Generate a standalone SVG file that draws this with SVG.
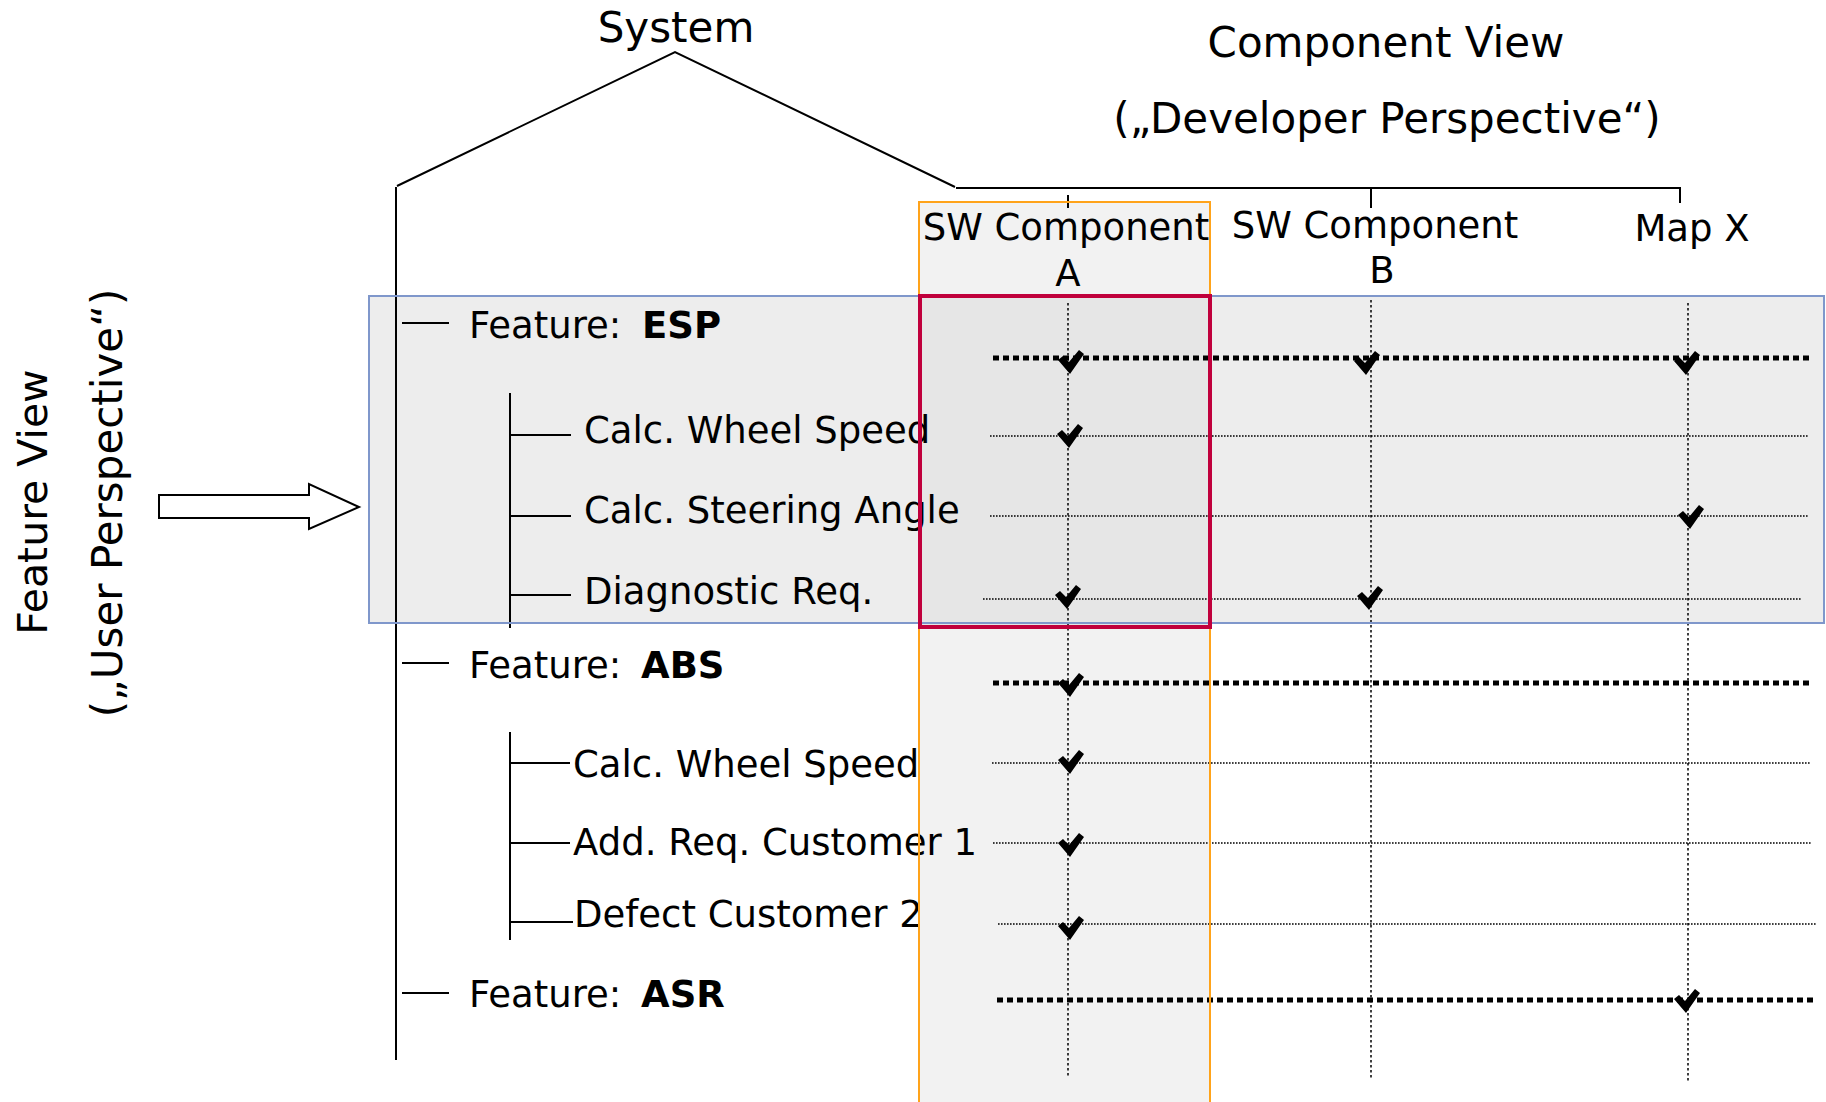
<svg xmlns="http://www.w3.org/2000/svg" xmlns:xlink="http://www.w3.org/1999/xlink" width="1826" height="1102" viewBox="0 0 1826 1102">
<style>
text{font-family:"DejaVu Sans",Verdana,sans-serif;fill:#000}
.h{font-size:42px}
.t{font-size:37px}
.b{font-weight:bold}
.ln{stroke:#000;stroke-width:2;fill:none}
.vd{stroke:#000;stroke-width:1.5;stroke-dasharray:2.5 2.5;fill:none}
.hd{stroke:#000;stroke-width:1.6;stroke-dasharray:1.6 1.4;fill:none}
.fd{stroke:#000;stroke-width:5;stroke-dasharray:6 4;fill:none}
.ck{fill:#000}
</style>
<defs>
<path id="chk" d="M-13,-2 L-8,-6 L-2,0 L8,-12 L13,-8 L-1,12 Z"/>
</defs>
<rect width="1826" height="1102" fill="#fff"/>
<g id="backgrounds">
<rect x="919" y="202" width="291" height="910" fill="#f2f2f2"/>
<rect x="369" y="296" width="1455" height="327" fill="#ededed"/>
<rect x="919" y="296" width="291" height="331" fill="#e6e6e6"/>
</g>
<g id="connectors">
<polyline class="ln" points="397,186 675,52 955,187"/>
<line class="ln" x1="396" y1="187" x2="396" y2="1060"/>
<line class="ln" x1="956" y1="188" x2="1681" y2="188"/>
<line class="ln" x1="1068" y1="195" x2="1068" y2="208"/>
<line class="ln" x1="1371" y1="187" x2="1371" y2="208"/>
<line class="ln" x1="1680" y1="188" x2="1680" y2="203"/>
<line class="ln" x1="402" y1="323" x2="449" y2="323"/>
<line class="ln" x1="402" y1="663" x2="449" y2="663"/>
<line class="ln" x1="402" y1="993" x2="449" y2="993"/>
<line class="ln" x1="510" y1="393" x2="510" y2="628"/>
<line class="ln" x1="510" y1="435" x2="571" y2="435"/>
<line class="ln" x1="510" y1="516" x2="571" y2="516"/>
<line class="ln" x1="510" y1="595" x2="571" y2="595"/>
<line class="ln" x1="510" y1="732" x2="510" y2="940"/>
<line class="ln" x1="510" y1="763" x2="570" y2="763"/>
<line class="ln" x1="510" y1="843" x2="570" y2="843"/>
<line class="ln" x1="511" y1="922" x2="573" y2="922"/>
<line class="vd" x1="1068" y1="303" x2="1068" y2="1077"/>
<line class="vd" x1="1371" y1="300" x2="1371" y2="1078"/>
<line class="vd" x1="1688" y1="303" x2="1688" y2="1082"/>
<line class="hd" x1="990" y1="436" x2="1808" y2="436"/>
<line class="hd" x1="990" y1="516" x2="1808" y2="516"/>
<line class="hd" x1="983" y1="599" x2="1801" y2="599"/>
<line class="hd" x1="992" y1="763" x2="1811" y2="763"/>
<line class="hd" x1="993" y1="843" x2="1811" y2="843"/>
<line class="hd" x1="998" y1="924" x2="1817" y2="924"/>
<line class="fd" x1="993" y1="358" x2="1810" y2="358"/>
<line class="fd" x1="993" y1="683" x2="1810" y2="683"/>
<line class="fd" x1="997" y1="1000" x2="1814" y2="1000"/>
<polygon points="159,495 309,495 309,484 359,507 309,529 309,518 159,518" fill="#fff" stroke="#000" stroke-width="2"/>
</g>
<g id="headings">
<text class="h" x="676" y="42" text-anchor="middle">System</text>
<text class="h" x="1386" y="57" text-anchor="middle">Component View</text>
<text class="h" x="1387" y="133" text-anchor="middle">(„Developer Perspective“)</text>
<text class="h" style="font-size:41px" transform="translate(47,502) rotate(-90)" text-anchor="middle">Feature View</text>
<text class="h" transform="translate(122,503) rotate(-90)" text-anchor="middle">(„User Perspective“)</text>
</g>
<g id="node-swa"><text class="t" x="1066" y="240" text-anchor="middle">SW Component</text><text class="t" x="1068" y="286" text-anchor="middle">A</text></g>
<g id="node-swb"><text class="t" x="1375" y="238" text-anchor="middle">SW Component</text><text class="t" x="1382" y="283" text-anchor="middle">B</text></g>
<g id="node-mapx"><text class="t" x="1692" y="241" text-anchor="middle">Map X</text></g>
<g id="node-esp"><text class="t" x="469" y="338">Feature:<tspan class="b" x="642">ESP</tspan></text></g>
<g id="node-esp-1"><text class="t" x="584" y="443">Calc. Wheel Speed</text></g>
<g id="node-esp-2"><text class="t" x="584" y="523">Calc. Steering Angle</text></g>
<g id="node-esp-3"><text class="t" x="584" y="604">Diagnostic Req.</text></g>
<g id="node-abs"><text class="t" x="469" y="678">Feature:<tspan class="b" x="641">ABS</tspan></text></g>
<g id="node-abs-1"><text class="t" x="573" y="777">Calc. Wheel Speed</text></g>
<g id="node-abs-2"><text class="t" x="573" y="855">Add. Req. Customer 1</text></g>
<g id="node-abs-3"><text class="t" x="574" y="927">Defect Customer 2</text></g>
<g id="node-asr"><text class="t" x="469" y="1007">Feature:<tspan class="b" x="641">ASR</tspan></text></g>
<g id="checks" class="ck">
<use xlink:href="#chk" x="1071" y="362"/>
<use xlink:href="#chk" x="1367" y="363"/>
<use xlink:href="#chk" x="1687" y="363"/>
<use xlink:href="#chk" x="1070" y="436"/>
<use xlink:href="#chk" x="1691" y="517"/>
<use xlink:href="#chk" x="1068" y="597"/>
<use xlink:href="#chk" x="1370" y="598"/>
<use xlink:href="#chk" x="1071" y="685"/>
<use xlink:href="#chk" x="1071" y="762"/>
<use xlink:href="#chk" x="1071" y="845"/>
<use xlink:href="#chk" x="1071" y="928"/>
<use xlink:href="#chk" x="1687" y="1001"/>
</g>
<g id="outlines" fill="none">
<rect x="919" y="202" width="291" height="910" stroke="#ffa31a" stroke-width="2"/>
<rect x="369" y="296" width="1455" height="327" stroke="#7f97cb" stroke-width="2"/>
<rect x="920" y="296" width="290" height="331" stroke="#c0003c" stroke-width="4"/>
</g>
</svg>
